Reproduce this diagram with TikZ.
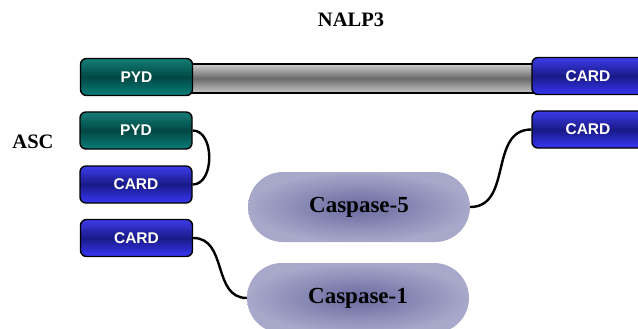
\documentclass[tikz,border=0pt]{standalone}
\usepackage{fontspec}
\setmainfont{Liberation Serif}
\newfontfamily\boxfont{Liberation Sans}
\definecolor{tealtop}{RGB}{20,125,118}
\definecolor{tealmid}{RGB}{0,72,68}
\definecolor{tealbot}{RGB}{10,125,120}
\definecolor{bluetop}{RGB}{60,60,235}
\definecolor{bluemid}{RGB}{25,25,135}
\definecolor{bluebot}{RGB}{55,55,245}
\definecolor{graytop}{RGB}{205,205,205}
\definecolor{graymid}{RGB}{105,105,105}
\definecolor{graybot}{RGB}{200,200,200}
\definecolor{caspin}{RGB}{105,105,160}
\definecolor{caspout}{RGB}{168,168,202}
\tikzset{
  dombox/.style={draw=black, line width=1.4pt, rounded corners=6pt,
    minimum width=112pt, minimum height=37pt, inner sep=0pt,
    text=white, font=\boxfont\bfseries\fontsize{15.5}{18}\selectfont},
  pydbox/.style={dombox, top color=tealtop, bottom color=tealbot, middle color=tealmid},
  cardbox/.style={dombox, top color=bluetop, bottom color=bluebot, middle color=bluemid},
  linker/.style={draw=black, line width=1.4pt, top color=graytop, bottom color=graybot,
    middle color=graymid, minimum width=344pt, minimum height=29pt, inner sep=0pt},
  casp/.style={rounded rectangle, minimum width=222pt, minimum height=70pt, inner sep=0pt,
    inner color=caspin, outer color=caspout,
    font=\bfseries\fontsize{23}{26}\selectfont},
  conn/.style={draw=black, line width=2.4pt},
  title/.style={font=\bfseries\fontsize{20.5}{24}\selectfont}
}
\usetikzlibrary{shapes.misc}
\begin{document}
\begin{tikzpicture}[x=1pt,y=-1pt]
\useasboundingbox (0,0) rectangle (638,329);
\node[title] (nalp) at (351,20) {NALP3};
\node[title] (asc) at (33,142) {ASC};
\node[linker] (bar) at (362,78.5) {};
\node[pydbox] (npyd) at (136.5,77) {PYD};
\node[cardbox] (ncard) at (588,76) {CARD};
\node[pydbox] (apyd) at (136,130.5) {PYD};
\node[cardbox] (acard) at (136,184.5) {CARD};
\node[cardbox] (card2) at (588,129.5) {CARD};
\node[cardbox] (card3) at (136.5,238) {CARD};
\node[casp] (c5) at (359,207) {Caspase-5};
\node[casp] (c1) at (358,298) {Caspase-1};
\draw[conn] (apyd.east) to[out=0,in=0,looseness=1.05] (acard.east);
\draw[conn] (card2.west) to[out=180,in=0,looseness=1.1] (c5.east);
\draw[conn] (card3.east) to[out=0,in=180,looseness=1.1] (c1.west);
\end{tikzpicture}
\end{document}
